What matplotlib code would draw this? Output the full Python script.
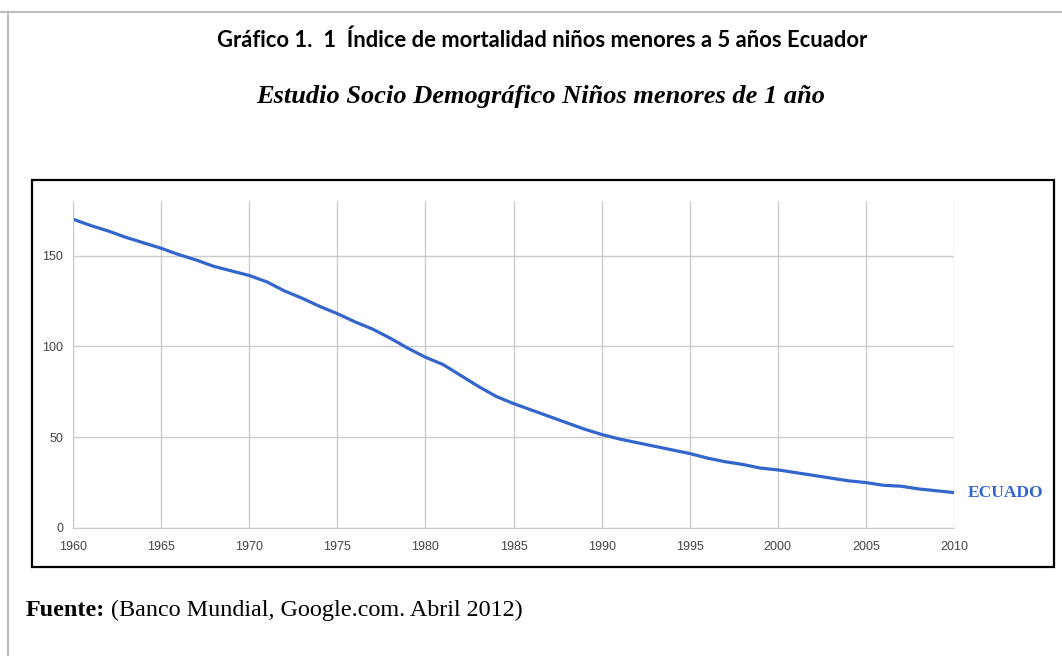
import matplotlib.pyplot as plt
from matplotlib.patches import Rectangle
from matplotlib.lines import Line2D

years = list(range(1960, 2011))
mortality = [170, 166.5, 163.5, 160, 157, 154, 150.5, 147.5, 144, 141.5,
             139, 135.5, 130.5, 126.5, 122, 118, 113.5, 109.5, 104.5, 99,
             94, 90, 84, 78, 72.5, 68.5, 65, 61.5, 58, 54.5,
             51.5, 49, 47, 45, 43, 41, 38.5, 36.5, 35, 33,
             32, 30.5, 29, 27.5, 26, 25, 23.5, 23, 21.5, 20.5,
             19.5]
x_ticks = [1960, 1965, 1970, 1975, 1980, 1985, 1990, 1995, 2000, 2005, 2010]
y_ticks = [0, 50, 100, 150]
series_name = 'ECUADO'

W, H = 1062, 656
fig = plt.figure(figsize=(W / 100, H / 100), dpi=100)
fig.patch.set_facecolor('white')

# page border (grey) and the pasted chart frame (black)
fig.add_artist(Line2D([0, 1], [1 - 12 / H, 1 - 12 / H], color='#bdbdbd', lw=1.5))
fig.add_artist(Line2D([8 / W, 8 / W], [0, 1 - 12 / H], color='#bdbdbd', lw=1.5))
fig.add_artist(Rectangle((32 / W, 1 - 567 / H), (1054 - 32) / W, (567 - 180) / H,
                         fill=False, edgecolor='black', lw=1.6))

ax = fig.add_axes([73 / W, 1 - 528 / H, (954 - 73) / W, (528 - 201) / H])
ax.plot(years, mortality, color='#3366cc', lw=2.3, solid_capstyle='round')
ax.set_xlim(1960, 2010)
ax.set_ylim(0, 180)
ax.set_xticks(x_ticks)
ax.set_yticks(y_ticks)
ax.grid(True, color='#cccccc', lw=1)
ax.set_axisbelow(True)
for s in ['top', 'right']:
    ax.spines[s].set_visible(False)
for s in ['left', 'bottom']:
    ax.spines[s].set_color('#cccccc')
ax.tick_params(axis='x', pad=9)
ax.tick_params(axis='y', pad=7)
ax.tick_params(length=0, labelsize=9, labelcolor='#444444')
for lab in ax.get_xticklabels() + ax.get_yticklabels():
    lab.set_family('Liberation Sans')
ax.annotate(series_name, xy=(years[-1], mortality[-1]), xytext=(10, 0),
            textcoords='offset points', ha='left', va='center',
            color='#3366cc', family='Liberation Serif', fontweight='bold',
            fontsize=12.5, annotation_clip=False)

fig.text(542 / W, 1 - 40 / H, 'Gráfico 1.  1  Índice de mortalidad niños menores a 5 años Ecuador',
         ha='center', va='center', fontsize=15.8, fontweight='bold', family='Lato')
fig.text(541 / W, 1 - 97 / H, 'Estudio Socio Demográfico Niños menores de 1 año',
         ha='center', va='center', fontsize=19, fontweight='bold', style='italic',
         family='Liberation Serif')

t = fig.text(26 / W, 1 - 616 / H, 'Fuente:', ha='left', va='baseline',
             fontsize=17.4, fontweight='bold', family='Liberation Serif')
ax.annotate(' (Banco Mundial, Google.com. Abril 2012)', xy=(1, 0), xycoords=t,
            ha='left', va='bottom', fontsize=17.4, family='Liberation Serif',
            annotation_clip=False)

fig.savefig('out.png', dpi=100)
